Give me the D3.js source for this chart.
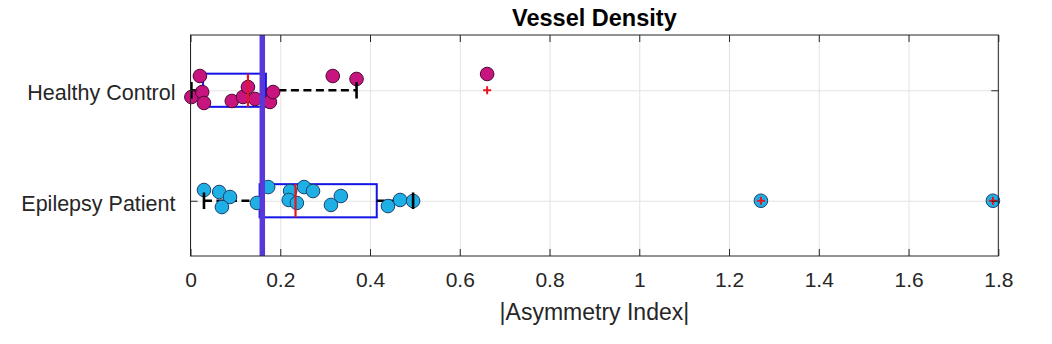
<!DOCTYPE html>
<html>
<head>
<meta charset="utf-8">
<script src="https://cdn.jsdelivr.net/npm/d3@7.9.0/dist/d3.min.js"></script>
<style>
  body { margin: 0; background: #fff; }
  svg { display: block; font-family: Arial, "Liberation Sans", Helvetica, sans-serif; }
</style>
</head>
<body>
<div id="chart"></div>
<script>
// groups (row 1 = top)
const groups = ['Healthy Control', 'Epilepsy Patient'];

// individual points: value + vertical jitter (in row units)
const healthyVals   = [0.021, 0.002, 0.026, 0.030, 0.092, 0.117, 0.128, 0.144, 0.177, 0.184, 0.317, 0.370, 0.661];
const healthyJitter = [-0.129, 0.061, 0.016, 0.115, 0.097, 0.061, -0.029, 0.079, 0.106, 0.016, -0.129, -0.102, -0.147];

const epilepsyVals   = [0.030, 0.064, 0.088, 0.070, 0.148, 0.173, 0.222, 0.219, 0.237, 0.253, 0.273, 0.313, 0.335, 0.440, 0.467, 0.496, 1.271, 1.788];
const epilepsyJitter = [-0.097, -0.079, -0.034, 0.057, 0.020, -0.124, -0.088, -0.007, 0.020, -0.124, -0.088, 0.038, -0.043, 0.048, -0.007, 0.002, 0, 0];

// box stats per group [healthy, epilepsy]
const q1Vals      = [0.028, 0.154];
const medianVals  = [0.128, 0.234];
const q3Vals      = [0.168, 0.415];
const whiskerLow  = [0.002, 0.030];
const whiskerHigh = [0.370, 0.496];
const outliers    = [[0.661], [1.271, 1.788]];

// reference line
const refValue = 0.16;

const xTicks = [0, 0.2, 0.4, 0.6, 0.8, 1, 1.2, 1.4, 1.6, 1.8];

const width = 1052;
const height = 344;
const margin = { top: 35, right: 54, bottom: 88, left: 190.5 };
const plot = {
    left: margin.left,
    right: width - margin.right + 0.3,
    top: margin.top,
    bottom: height - margin.bottom
};

const svg = d3.select('#chart')
    .append('svg')
    .attr('width', width)
    .attr('height', height);

const x = d3.scaleLinear().domain([0, 1.8]).range([plot.left, plot.right]);
const y = d3.scaleLinear().domain([0.5, 2.5]).range([plot.top, plot.bottom]);

// grid
svg.append('g')
    .attr('transform', `translate(0,${plot.bottom})`)
    .call(d3.axisBottom(x).tickValues(xTicks).tickFormat('').tickSize(-(plot.bottom - plot.top)))
    .call(g => g.select('.domain').remove())
    .call(g => g.selectAll('line').attr('stroke', '#e3e3e3').attr('stroke-width', 1));

svg.append('g')
    .attr('transform', `translate(${plot.left},0)`)
    .call(d3.axisLeft(y).tickValues([1, 2]).tickFormat('').tickSize(-(plot.right - plot.left)))
    .call(g => g.select('.domain').remove())
    .call(g => g.selectAll('line').attr('stroke', '#e3e3e3').attr('stroke-width', 1));

const rows = groups.map((name, i) => ({
    name, i, pos: i + 1,
    q1: q1Vals[i], med: medianVals[i], q3: q3Vals[i],
    lo: whiskerLow[i], hi: whiskerHigh[i], out: outliers[i]
}));

const boxHalf = 0.15;
const capHalf = 0.075;

// box
svg.append('g').selectAll('rect')
    .data(rows)
    .join('rect')
    .attr('x', d => x(d.q1))
    .attr('y', d => y(d.pos - boxHalf))
    .attr('width', d => x(d.q3) - x(d.q1))
    .attr('height', d => y(d.pos + boxHalf) - y(d.pos - boxHalf))
    .attr('fill', 'none')
    .attr('stroke', '#1414e6')
    .attr('stroke-width', 2);

// whiskers
const whisk = svg.append('g');
rows.forEach(d => {
    [[d.lo, d.q1], [d.q3, d.hi]].forEach(([a, b]) => {
        whisk.append('line')
            .attr('x1', x(a)).attr('x2', x(b))
            .attr('y1', y(d.pos)).attr('y2', y(d.pos))
            .attr('stroke', '#000')
            .attr('stroke-width', 2.3)
            .attr('stroke-dasharray', '8,4.5');
    });
});

// points
const pointData = [
    ...healthyVals.map((v, k) => ({ v, pos: 1 + healthyJitter[k], g: 0 })),
    ...epilepsyVals.map((v, k) => ({ v, pos: 2 + epilepsyJitter[k], g: 1 }))
];
const fillColor = ['#c8147e', '#1eb0e4'];
const strokeColor = ['#4a0830', '#1b3f6e'];

svg.append('g').selectAll('circle')
    .data(pointData)
    .join('circle')
    .attr('cx', d => x(d.v))
    .attr('cy', d => y(d.pos))
    .attr('r', 6.8)
    .attr('fill', d => fillColor[d.g])
    .attr('stroke', d => strokeColor[d.g])
    .attr('stroke-width', 1);

// caps
const caps = svg.append('g');
rows.forEach(d => {
    [d.lo, d.hi].forEach(v => {
        caps.append('line')
            .attr('x1', x(v)).attr('x2', x(v))
            .attr('y1', y(d.pos - capHalf)).attr('y2', y(d.pos + capHalf))
            .attr('stroke', '#000')
            .attr('stroke-width', 2.6);
    });
});

// medians
svg.append('g').selectAll('line')
    .data(rows)
    .join('line')
    .attr('x1', d => x(d.med)).attr('x2', d => x(d.med))
    .attr('y1', d => y(d.pos - boxHalf)).attr('y2', d => y(d.pos + boxHalf))
    .attr('stroke', '#e8141e')
    .attr('stroke-width', 2.2);

// outliers
const outG = svg.append('g');
rows.forEach(d => {
    d.out.forEach(v => {
        const cx = x(v), cy = y(d.pos);
        outG.append('path')
            .attr('d', `M${cx - 4},${cy}H${cx + 4}M${cx},${cy - 4}V${cy + 4}`)
            .attr('stroke', '#e8141e')
            .attr('stroke-width', 2);
    });
});

// reference line
svg.append('line')
    .attr('x1', x(refValue)).attr('x2', x(refValue))
    .attr('y1', plot.top).attr('y2', plot.bottom)
    .attr('stroke', '#5838d8')
    .attr('stroke-width', 5.5);

// frame
svg.append('rect')
    .attr('x', plot.left).attr('y', plot.top)
    .attr('width', plot.right - plot.left)
    .attr('height', plot.bottom - plot.top)
    .attr('fill', 'none')
    .attr('stroke', '#262626')
    .attr('stroke-width', 1);

// x axis (bottom, ticks inward)
svg.append('g')
    .attr('transform', `translate(0,${plot.bottom})`)
    .call(d3.axisBottom(x).tickValues(xTicks).tickFormat(d3.format('~g')).tickSize(-7).tickPadding(16))
    .call(g => g.select('.domain').remove())
    .call(g => g.selectAll('line').attr('stroke', '#262626'))
    .call(g => g.selectAll('text').attr('font-size', 21).attr('fill', '#262626')
        .attr('font-family', 'Arial, "Liberation Sans", sans-serif'));

// top ticks
svg.append('g')
    .attr('transform', `translate(0,${plot.top})`)
    .call(d3.axisTop(x).tickValues(xTicks).tickFormat('').tickSize(-7))
    .call(g => g.select('.domain').remove())
    .call(g => g.selectAll('line').attr('stroke', '#262626'));

// y axis
svg.append('g')
    .attr('transform', `translate(${plot.left},0)`)
    .call(d3.axisLeft(y).tickValues([1, 2]).tickFormat(d => groups[d - 1]).tickSize(-7).tickPadding(15))
    .call(g => g.select('.domain').remove())
    .call(g => g.selectAll('line').attr('stroke', '#262626'))
    .call(g => g.selectAll('text').attr('font-size', 21.5).attr('fill', '#262626').attr('dy', '0.43em')
        .attr('font-family', 'Arial, "Liberation Sans", sans-serif'));

svg.append('g')
    .attr('transform', `translate(${plot.right},0)`)
    .call(d3.axisRight(y).tickValues([1, 2]).tickFormat('').tickSize(-7))
    .call(g => g.select('.domain').remove())
    .call(g => g.selectAll('line').attr('stroke', '#262626'));

// labels
svg.append('text')
    .attr('x', (plot.left + plot.right) / 2)
    .attr('y', 320)
    .attr('text-anchor', 'middle')
    .attr('font-size', 23)
    .attr('fill', '#262626')
    .text('|Asymmetry Index|');

svg.append('text')
    .attr('x', (plot.left + plot.right) / 2)
    .attr('y', 26)
    .attr('text-anchor', 'middle')
    .attr('font-size', 23.5)
    .attr('font-weight', 'bold')
    .attr('fill', '#000')
    .text('Vessel Density');
</script>
</body>
</html>
